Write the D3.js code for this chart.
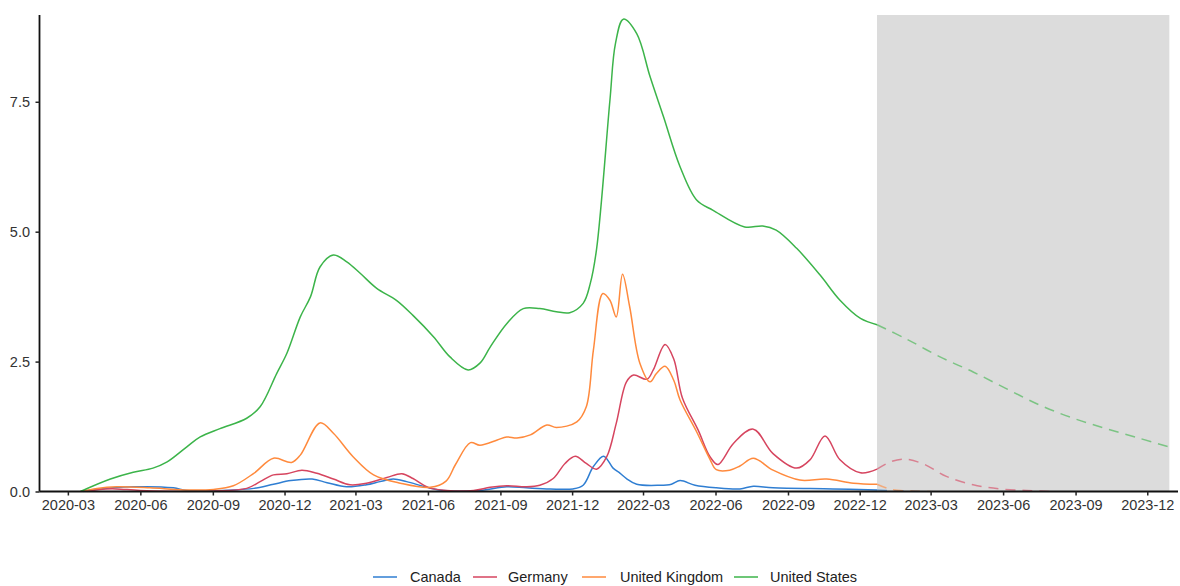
<!DOCTYPE html>
<html>
<head>
<meta charset="utf-8">
<script src="https://cdn.jsdelivr.net/npm/d3@7"></script>
<style>
  html, body { margin: 0; padding: 0; background: #ffffff; }
  svg { display: block; }
  .tick text { font-family: "Liberation Sans", Arial, sans-serif; font-size: 14.5px; fill: #333333; }
  .legend text { font-family: "Liberation Sans", Arial, sans-serif; font-size: 14.5px; fill: #222222; }
</style>
</head>
<body>
<svg id="chart" width="1180" height="586"></svg>
<script>
// Series names, legend order
const countries = ["Canada", "Germany", "United Kingdom", "United States"];
const seriesColors = ["#2f7ed2", "#d6455f", "#ff8a3d", "#3cb44a"];

// Observed values: [date, value]
const canada = [
  ["2020-03-20", 0], ["2020-04-07", 0.04], ["2020-05-23", 0.09], ["2020-07-13", 0.07],
  ["2020-07-30", 0.02], ["2020-09-27", 0.03], ["2020-10-23", 0.06], ["2020-11-17", 0.14],
  ["2020-12-09", 0.21], ["2021-01-05", 0.24], ["2021-01-24", 0.17], ["2021-02-18", 0.09],
  ["2021-03-15", 0.13], ["2021-04-01", 0.19], ["2021-04-18", 0.24], ["2021-05-05", 0.19],
  ["2021-05-31", 0.08], ["2021-06-21", 0.02], ["2021-08-06", 0.02], ["2021-09-09", 0.09],
  ["2021-10-04", 0.07], ["2021-11-03", 0.05], ["2021-12-02", 0.05], ["2021-12-15", 0.12],
  ["2021-12-28", 0.48], ["2022-01-10", 0.68], ["2022-01-22", 0.45], ["2022-01-31", 0.35],
  ["2022-02-08", 0.25], ["2022-02-21", 0.14], ["2022-03-22", 0.12], ["2022-04-06", 0.14],
  ["2022-04-17", 0.21], ["2022-05-06", 0.12], ["2022-06-02", 0.07], ["2022-07-02", 0.05],
  ["2022-07-19", 0.10], ["2022-08-13", 0.07], ["2022-10-28", 0.05], ["2022-12-23", 0.03]
];
const germany = [
  ["2020-03-25", 0], ["2020-04-10", 0.04], ["2020-05-01", 0.05], ["2020-06-01", 0.02],
  ["2020-09-01", 0.01], ["2020-10-14", 0.06], ["2020-10-31", 0.19], ["2020-11-17", 0.32],
  ["2020-12-04", 0.34], ["2020-12-23", 0.41], ["2021-01-11", 0.35], ["2021-02-01", 0.24],
  ["2021-02-22", 0.13], ["2021-03-15", 0.16], ["2021-04-10", 0.27], ["2021-04-29", 0.34],
  ["2021-05-13", 0.25], ["2021-06-01", 0.08], ["2021-06-25", 0.02], ["2021-07-29", 0.02],
  ["2021-08-19", 0.08], ["2021-09-09", 0.11], ["2021-10-04", 0.09], ["2021-10-21", 0.12],
  ["2021-11-07", 0.25], ["2021-11-22", 0.54], ["2021-12-05", 0.68], ["2021-12-19", 0.54],
  ["2022-01-01", 0.43], ["2022-01-14", 0.67], ["2022-01-26", 1.31], ["2022-02-08", 2.11],
  ["2022-02-17", 2.24], ["2022-03-06", 2.16], ["2022-03-14", 2.34], ["2022-03-29", 2.83],
  ["2022-04-09", 2.55], ["2022-04-20", 1.80], ["2022-05-10", 1.18], ["2022-05-25", 0.67],
  ["2022-06-04", 0.52], ["2022-06-24", 0.93], ["2022-07-19", 1.20], ["2022-08-13", 0.73],
  ["2022-09-12", 0.45], ["2022-09-29", 0.61], ["2022-10-18", 1.07], ["2022-11-06", 0.61],
  ["2022-12-02", 0.36], ["2022-12-23", 0.43]
];
const unitedKingdom = [
  ["2020-03-17", 0], ["2020-04-07", 0.06], ["2020-05-02", 0.09], ["2020-06-13", 0.07],
  ["2020-07-26", 0.03], ["2020-09-02", 0.04], ["2020-09-27", 0.11], ["2020-10-23", 0.35],
  ["2020-11-17", 0.64], ["2020-12-10", 0.56], ["2020-12-21", 0.70], ["2021-01-15", 1.32],
  ["2021-02-01", 1.12], ["2021-02-26", 0.67], ["2021-03-24", 0.32], ["2021-04-27", 0.16],
  ["2021-06-04", 0.08], ["2021-06-24", 0.20], ["2021-07-06", 0.52],
  ["2021-07-25", 0.94], ["2021-08-06", 0.89], ["2021-08-28", 0.99], ["2021-09-09", 1.05],
  ["2021-09-22", 1.03], ["2021-10-09", 1.09], ["2021-10-30", 1.28], ["2021-11-11", 1.23],
  ["2021-12-07", 1.34], ["2021-12-19", 1.63], ["2021-12-28", 2.72], ["2022-01-09", 3.81],
  ["2022-01-18", 3.68], ["2022-01-26", 3.36], ["2022-02-03", 4.18], ["2022-02-12", 3.56],
  ["2022-02-25", 2.47], ["2022-03-10", 2.11], ["2022-03-18", 2.27], ["2022-03-29", 2.41],
  ["2022-04-09", 2.14], ["2022-04-17", 1.76], ["2022-05-08", 1.15], ["2022-05-25", 0.62],
  ["2022-06-02", 0.42], ["2022-06-19", 0.41], ["2022-07-02", 0.49], ["2022-07-19", 0.64],
  ["2022-08-13", 0.41], ["2022-09-16", 0.22], ["2022-10-20", 0.24], ["2022-11-23", 0.16],
  ["2022-12-23", 0.14]
];
const unitedStates = [
  ["2020-03-17", 0], ["2020-04-24", 0.24], ["2020-05-23", 0.37], ["2020-06-17", 0.45],
  ["2020-07-05", 0.57], ["2020-07-30", 0.86], ["2020-08-16", 1.05], ["2020-09-10", 1.21],
  ["2020-10-14", 1.41], ["2020-10-31", 1.63], ["2020-11-21", 2.27], ["2020-12-04", 2.66],
  ["2020-12-21", 3.36], ["2021-01-03", 3.75], ["2021-01-15", 4.32], ["2021-02-01", 4.55],
  ["2021-02-18", 4.42], ["2021-03-07", 4.20], ["2021-03-28", 3.91], ["2021-04-22", 3.68],
  ["2021-05-13", 3.39], ["2021-06-08", 2.98], ["2021-06-29", 2.59], ["2021-07-22", 2.34],
  ["2021-08-06", 2.47], ["2021-08-19", 2.78], ["2021-09-09", 3.23], ["2021-09-30", 3.52],
  ["2021-10-21", 3.52], ["2021-11-11", 3.46], ["2021-11-28", 3.44], ["2021-12-15", 3.62],
  ["2021-12-24", 4.00], ["2022-01-01", 4.66], ["2022-01-18", 7.53], ["2022-01-25", 8.62],
  ["2022-02-04", 9.09], ["2022-02-21", 8.81], ["2022-03-10", 7.98], ["2022-03-27", 7.21],
  ["2022-04-17", 6.25], ["2022-05-08", 5.61], ["2022-05-29", 5.41], ["2022-07-08", 5.09],
  ["2022-07-31", 5.11], ["2022-08-17", 5.03], ["2022-09-12", 4.68], ["2022-10-12", 4.16],
  ["2022-11-06", 3.68], ["2022-12-02", 3.33], ["2022-12-23", 3.21]
];

// Projected values (dashed), beginning where observations stop
const canadaForecast = [["2022-12-23", 0.03], ["2023-01-15", 0.01], ["2023-02-15", 0]];
const germanyForecast = [
  ["2022-12-23", 0.43], ["2023-01-09", 0.57], ["2023-01-28", 0.62], ["2023-02-20", 0.53],
  ["2023-03-21", 0.29], ["2023-04-24", 0.13], ["2023-05-28", 0.05], ["2023-07-01", 0.02],
  ["2023-07-30", 0]
];
const unitedKingdomForecast = [["2022-12-23", 0.14], ["2023-01-10", 0.04], ["2023-02-05", 0.01], ["2023-03-01", 0]];
const unitedStatesForecast = [
  ["2022-12-23", 3.21], ["2023-01-30", 2.93], ["2023-03-13", 2.59], ["2023-04-24", 2.30],
  ["2023-06-05", 1.98], ["2023-07-18", 1.66], ["2023-08-29", 1.41], ["2023-10-10", 1.21],
  ["2023-11-22", 1.02], ["2023-12-28", 0.86]
];

// Shaded projection window
const projectionWindow = ["2022-12-23", "2023-12-29"];

// Axis ticks
const yTicks = [0, 2.5, 5, 7.5];
const xTickDates = ["2020-03-01", "2020-06-01", "2020-09-01", "2020-12-01", "2021-03-01", "2021-06-01",
  "2021-09-01", "2021-12-01", "2022-03-01", "2022-06-01", "2022-09-01", "2022-12-01",
  "2023-03-01", "2023-06-01", "2023-09-01", "2023-12-01"];

const parse = d3.utcParse("%Y-%m-%d");
const observed = [canada, germany, unitedKingdom, unitedStates];
const forecast = [canadaForecast, germanyForecast, unitedKingdomForecast, unitedStatesForecast];

const svg = d3.select("#chart");
svg.append("rect").attr("width", 1180).attr("height", 586).attr("fill", "#ffffff");

const x = d3.scaleUtc()
  .domain([parse("2020-01-25"), parse("2024-01-09")])
  .range([39.5, 1178]);
const y = d3.scaleLinear()
  .domain([0, 9.17])
  .range([491.5, 15]);

// Projection window background
svg.append("rect")
  .attr("x", x(parse(projectionWindow[0])))
  .attr("y", y(9.17))
  .attr("width", x(parse(projectionWindow[1])) - x(parse(projectionWindow[0])))
  .attr("height", y(0) - y(9.17))
  .attr("fill", "#dcdcdc");

// Smooth curves through the readings; never dip below the baseline
const line = d3.line()
  .x(d => x(parse(d[0])))
  .y(d => y(d[1]))
  .curve(d3.curveCatmullRom.alpha(0.5));

const plot = svg.append("g");
svg.append("clipPath").attr("id", "above-zero")
  .append("rect").attr("x", 0).attr("y", 0).attr("width", 1180).attr("height", y(0) + 0.75);
plot.attr("clip-path", "url(#above-zero)");

forecast.forEach((s, i) => {
  plot.append("path")
    .attr("d", line(s))
    .attr("fill", "none")
    .attr("stroke", seriesColors[i])
    .attr("stroke-opacity", 0.6)
    .attr("stroke-width", 1.5)
    .attr("stroke-dasharray", "10,7");
});

observed.forEach((s, i) => {
  plot.append("path")
    .attr("d", line(s))
    .attr("fill", "none")
    .attr("stroke", seriesColors[i])
    .attr("stroke-width", 1.5)
    .attr("stroke-linejoin", "round");
});

// Axes
const xAxis = d3.axisBottom(x)
  .tickValues(xTickDates.map(parse))
  .tickFormat(d3.utcFormat("%Y-%m"))
  .tickSize(4)
  .tickPadding(4.5);
const yAxis = d3.axisLeft(y)
  .tickValues(yTicks)
  .tickFormat(d3.format(".1f"))
  .tickSize(4)
  .tickPadding(5.5);

const gx = svg.append("g").attr("transform", `translate(0,${y(0)})`).call(xAxis);
const gy = svg.append("g").attr("transform", `translate(${x.range()[0]},0)`).call(yAxis);
[gx, gy].forEach(g => {
  g.select(".domain").attr("stroke", "#111").attr("stroke-width", 1.8);
  g.selectAll(".tick line").attr("stroke", "#222").attr("stroke-width", 1.5);
});
gx.select(".domain").attr("d", `M${x.range()[0]},0H${x.range()[1]}`);
gy.select(".domain").attr("d", `M0,${y.range()[1]}V${y.range()[0]}`);

// Legend
const legendItems = [
  { name: countries[0], keyX: 373, textX: 410 },
  { name: countries[1], keyX: 473, textX: 508 },
  { name: countries[2], keyX: 582, textX: 620 },
  { name: countries[3], keyX: 734, textX: 770 }
];
const legend = svg.append("g").attr("class", "legend");
legendItems.forEach((item, i) => {
  legend.append("line")
    .attr("x1", item.keyX).attr("x2", item.keyX + 24)
    .attr("y1", 577).attr("y2", 577)
    .attr("stroke", seriesColors[i]).attr("stroke-width", 1.5);
  legend.append("text")
    .attr("x", item.textX).attr("y", 577)
    .attr("dy", "0.35em")
    .text(item.name);
});
</script>
</body>
</html>
